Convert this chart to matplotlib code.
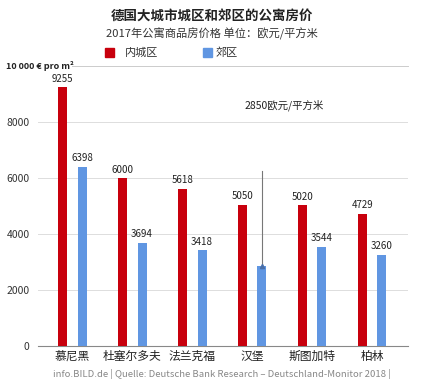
import numpy as np
import matplotlib
matplotlib.use('Agg')
import matplotlib.pyplot as plt
from matplotlib.patches import Rectangle

plt.rcParams['font.family'] = ['Noto Sans CJK SC', 'DejaVu Sans']

cities = ["慕尼黑", "杜塞尔多夫", "法兰克福", "汉堡", "斯图加特", "柏林"]
inner_city = [9255, 6000, 5618, 5050, 5020, 4729]
suburbs = [6398, 3694, 3418, 2850, 3544, 3260]
y_ticks = [0, 2000, 4000, 6000, 8000]

RED = "#c8000d"
BLUE = "#6096e2"
NARROW = ['Liberation Sans Narrow', 'Noto Sans CJK SC', 'DejaVu Sans']

fig = plt.figure(figsize=(4.24, 3.83), dpi=100)
ax = fig.add_axes([38 / 424, 1 - 346 / 383, 370 / 424, 280 / 383])

x = np.arange(len(cities))
w = 0.15
off = 0.165
ax.bar(x - off, inner_city, w, color=RED, zorder=3)
ax.bar(x + off, suburbs, w, color=BLUE, zorder=3)

for xi, v in zip(x, inner_city):
    ax.text(xi - off, v + 120, str(v), ha="center", va="bottom", fontsize=7,
            family=NARROW, color="#222222")
for i, (xi, v) in enumerate(zip(x, suburbs)):
    if cities[i] == "汉堡":
        continue  # Hamburg gets the callout instead
    ax.text(xi + off, v + 120, str(v), ha="center", va="bottom", fontsize=7,
            family=NARROW, color="#222222")

# Hamburg callout
hx = x[3] + off
ax.plot([hx, hx], [suburbs[3], 6250], color="#777777", lw=0.8, zorder=4)
ax.plot(hx, suburbs[3], marker="^", ms=3, color="#4a6fa8", zorder=5)
ax.text(2.88, 8600, "2850欧元/平方米", fontsize=7.5, color="#222222", va="center")

ax.set_xlim(-0.57, 5.6)
ax.set_ylim(0, 10000)
ax.set_yticks(y_ticks)
ax.set_yticklabels([str(t) for t in y_ticks], family=NARROW, fontsize=7.5,
                   color="#333333")
ax.tick_params(axis="y", length=0, pad=6)
ax.set_xticks(x)
ax.set_xticklabels(cities, fontsize=8.5, color="#222222")
ax.tick_params(axis="x", length=0, pad=3)

for t in y_ticks[1:]:
    ax.axhline(t, color="#dddddd", lw=0.7, zorder=1)
ax.plot([0.0, 5.6], [10000, 10000], color="#cccccc", lw=0.7, zorder=1,
        clip_on=False)
for s in ["top", "right", "left"]:
    ax.spines[s].set_visible(False)
ax.spines["bottom"].set_color("#888888")
ax.spines["bottom"].set_linewidth(0.8)

fig.text(6 / 424, 1 - 66 / 383, "10 000 € pro m²", fontsize=6.5,
         fontweight="bold", va="center", ha="left", color="#222222")

# titles
fig.text(0.5, 1 - 16 / 383, "德国大城市城区和郊区的公寓房价", fontsize=9.7,
         fontweight="bold", ha="center", va="center", color="#222222")
fig.text(0.5, 1 - 34 / 383, "2017年公寓商品房价格 单位：欧元/平方米", fontsize=8.1,
         ha="center", va="center", color="#333333")

# legend
fig.patches.append(Rectangle((105 / 424, 1 - 57 / 383), 9 / 424, 9 / 383,
                             transform=fig.transFigure, color=RED))
fig.text(125 / 424, 1 - 52.5 / 383, "内城区", fontsize=8, va="center",
         color="#333333")
fig.patches.append(Rectangle((203 / 424, 1 - 57 / 383), 9 / 424, 9 / 383,
                             transform=fig.transFigure, color=BLUE))
fig.text(216 / 424, 1 - 52.5 / 383, "郊区", fontsize=8, va="center",
         color="#333333")

fig.text(53 / 424, 1 - 374 / 383,
         "info.BILD.de | Quelle: Deutsche Bank Research – Deutschland-Monitor 2018 |",
         fontsize=6.9, color="#888888", va="center", family=NARROW)

fig.savefig("out.png", dpi=100, facecolor="white")
